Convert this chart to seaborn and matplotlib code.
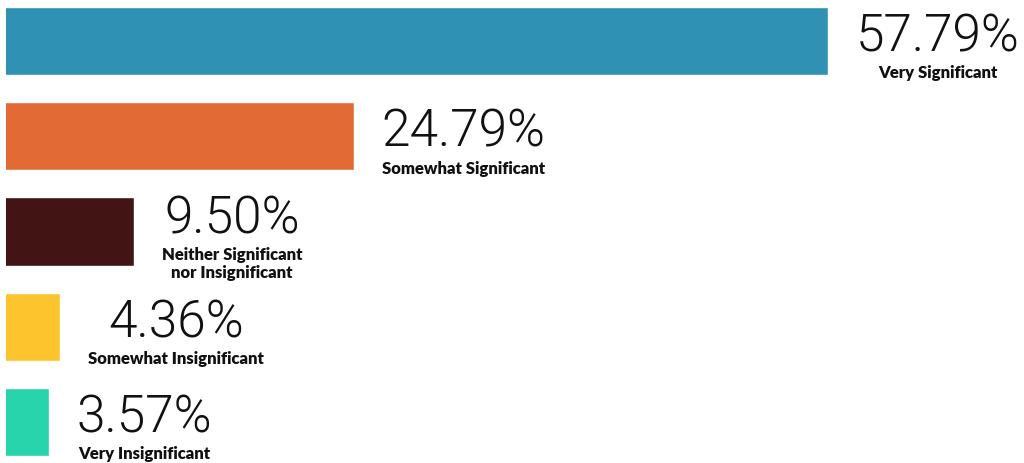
import matplotlib
matplotlib.use("Agg")
import matplotlib.pyplot as plt
import seaborn as sns
import pandas as pd
from matplotlib.offsetbox import TextArea, VPacker, AnnotationBbox

# --- data ---
categories = ["Very Significant", "Somewhat Significant",
              "Neither Significant\nnor Insignificant",
              "Somewhat Insignificant", "Very Insignificant"]
shares = [57.79, 24.79, 9.50, 4.36, 3.57]
colors = ["#2F92B4", "#E26A35", "#431414", "#FEC42E", "#27D4AB"]

df = pd.DataFrame({"category": categories, "share": shares})

sns.set_theme(style="white")
plt.rcParams["font.family"] = ["Lato", "DejaVu Sans"]

fig = plt.figure(figsize=(10.24, 4.63), dpi=100)
ax = fig.add_axes([6 / 1024, 0, 1 - 6 / 1024, 1])

sns.barplot(data=df, x="share", y="category", hue="category",
            palette=colors, orient="h", width=0.714, legend=False,
            saturation=1, ax=ax)

ax.set_xlim(0.578, 71.42)
ax.set_ylim(4.43, -0.43)
ax.axis("off")

# value + category label, stacked and centred, to the right of each bar
for i, (cat, val) in enumerate(zip(categories, shares)):
    num = TextArea(f"{val:.2f}%", textprops=dict(
        family=["Roboto", "DejaVu Sans"], fontsize=37, fontweight=300,
        color="#111111"))
    lab = TextArea(cat, textprops=dict(
        fontsize=12, fontweight="heavy", color="#111111",
        multialignment="center", linespacing=1.1))
    box = VPacker(children=[num, lab], align="center", pad=0, sep=2)
    ab = AnnotationBbox(box, (val, i), xybox=(20, -4.3),
                        xycoords="data", boxcoords="offset points",
                        box_alignment=(0, 0.5), frameon=False, pad=0)
    ax.add_artist(ab)

plt.savefig("out.png", dpi=100)
plt.close()
